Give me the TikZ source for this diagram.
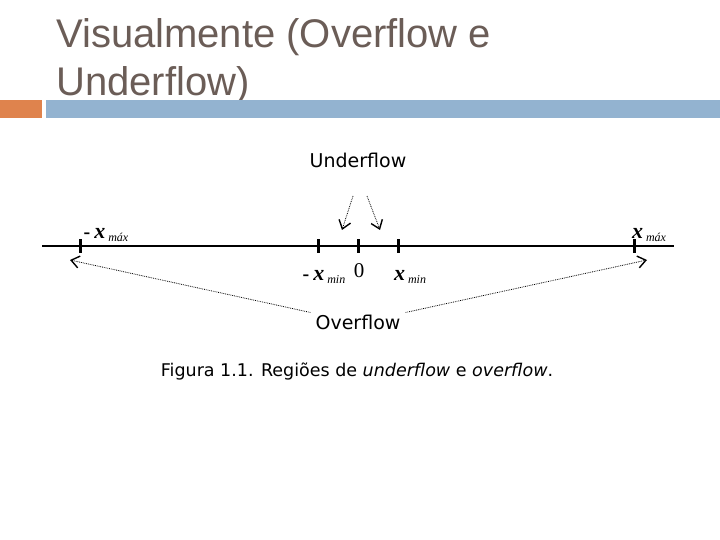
\documentclass[tikz,border=0pt]{standalone}
\usepackage{fontspec}
\setmainfont{Liberation Sans}
\newfontfamily\figfont{DejaVu Sans}
\newfontfamily\numfont{Liberation Serif}
\usetikzlibrary{arrows.meta, positioning}
\definecolor{titlegray}{HTML}{6B5D57}
\definecolor{baror}{HTML}{DF834D}
\definecolor{barbl}{HTML}{93B3D0}

\newcommand{\xlab}[2]{{\numfont #1\textbf{\textit{\fontsize{22}{22}\selectfont x}}\hspace{3pt}\raisebox{-3pt}{\textit{\fontsize{12}{12}\selectfont #2}}}}
\newcommand{\xneg}{\textbf{\fontsize{20}{20}\selectfont -}\hspace{4pt}}

\begin{document}
\begin{tikzpicture}[
                x=1pt, y=-1pt,
                every node/.style={inner sep=0pt},
                lbl/.style={font=\figfont\fontsize{19}{19}\selectfont},
                tick/.style={line width=3pt},
                flow/.style={densely dotted, line width=0.8pt, -{Straight Barb[length=8pt, width=12pt, line width=1.4pt]}},
                >=Stealth
            ]
            \useasboundingbox (0,0) rectangle (720,540);

            % title and bars
            \node[anchor=base west, text=titlegray, font=\fontsize{40}{40}\selectfont] (T1) at (56,48) {Visualmente (Overflow e};
            \node[anchor=base west, text=titlegray, font=\fontsize{40}{40}\selectfont] (T2) at (56,96) {Underflow)};
            \fill[baror] (0,100) rectangle (42,118);
            \fill[barbl] (46,100) rectangle (720,118);

            % number line
            \coordinate (L) at (42,246);
            \coordinate (R) at (674,246);
            \draw[line width=2.8pt] (L) -- (R);
            \foreach \n/\x in {nmax/80, nmin/318, zero/358, pmin/398, pmax/634} {
                \coordinate (\n) at (\x,246);
                \draw[tick] (\x,239) -- (\x,253);
            }

            % labels of the ticks
            \node[anchor=base] (Lnmax) at (106,238) {\xlab{\xneg}{máx}};
            \node[anchor=base] (Lpmax) at (649,238) {\xlab{}{máx}};
            \node[anchor=base] (Lnmin) at (324,280) {\xlab{\xneg}{min}};
            \node[anchor=base, font=\numfont\fontsize{21}{21}\selectfont] (Lzero) at (359,277) {0};
            \node[anchor=base] (Lpmin) at (410,280) {\xlab{}{min}};

            % underflow
            \node[lbl] (under) at (358,160) {Underflow};
            \coordinate (u1) at (353,196);
            \coordinate (u2) at (367,196);
            \coordinate (ut1) at (342,230);
            \coordinate (ut2) at (380,230);
            \draw[flow] (u1) -- (ut1);
            \draw[flow] (u2) -- (ut2);

            % overflow
            \node[lbl] (over) at (358,322) {Overflow};
            \coordinate (ot1) at (70,260);
            \coordinate (ot2) at (647,260);
            \draw[flow] (over.north west) ++(-5,-2) -- (ot1);
            \draw[flow] (over.north east) ++(5,-2) -- (ot2);

            % caption
            \node[lbl, font=\figfont\fontsize{17.5}{17.5}\selectfont] (cap) at (357,372) {Figura 1.1. Regiões de \textit{underflow} e \textit{overflow}.};

        \end{tikzpicture}
\end{document}
